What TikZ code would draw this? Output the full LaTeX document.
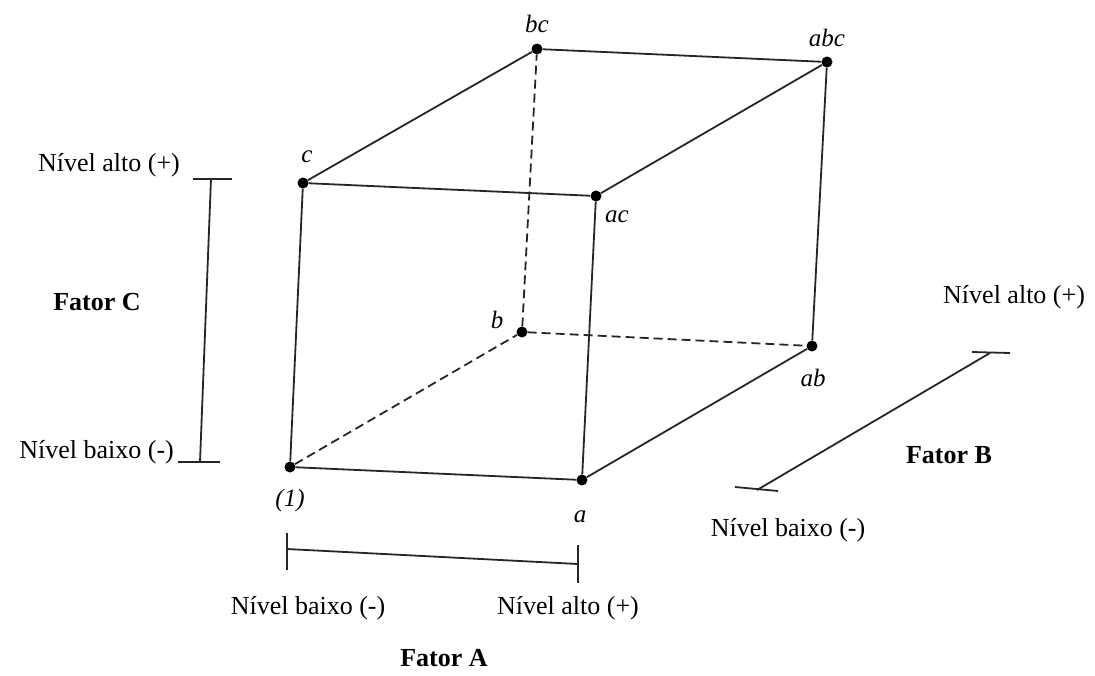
\documentclass[tikz,border=0pt]{standalone}
\usepackage{fontspec}
\setmainfont{Liberation Serif}
\begin{document}
\begin{tikzpicture}[x=1pt,y=-1pt,
  edge/.style={line width=1.8pt, black!85},
  hidden/.style={edge, dash pattern=on 9pt off 5pt},
  vtx/.style={circle, fill=black, inner sep=0pt, minimum size=11pt},
  lab/.style={font=\fontsize{25}{28}\selectfont\itshape, inner sep=0pt},
  txt/.style={font=\fontsize{26}{30}\selectfont, inner sep=0pt},
  boldtxt/.style={font=\fontsize{26}{30}\selectfont\bfseries, inner sep=0pt},
  bar/.style={line width=1.8pt, black!85}]
\useasboundingbox (0,0) rectangle (1095,675);
% cube vertices
\node[vtx] (v1)  at (290,467) {};
\node[vtx] (va)  at (582,480) {};
\node[vtx] (vb)  at (522,332) {};
\node[vtx] (vab) at (812,346) {};
\node[vtx] (vc)  at (303,183) {};
\node[vtx] (vac) at (596,196) {};
\node[vtx] (vbc) at (537,49) {};
\node[vtx] (vabc) at (827,62) {};
% solid edges
\draw[edge] (v1) -- (va);
\draw[edge] (va) -- (vab);
\draw[edge] (vab) -- (vabc);
\draw[edge] (vabc) -- (vbc);
\draw[edge] (vbc) -- (vc);
\draw[edge] (vc) -- (vac);
\draw[edge] (vac) -- (vabc);
\draw[edge] (vc) -- (v1);
\draw[edge] (vac) -- (va);
% hidden edges
\draw[hidden] (v1) -- (vb);
\draw[hidden] (vb) -- (vab);
\draw[hidden] (vb) -- (vbc);
% vertex labels
\node[lab] (l1)   at (290,500) {(1)};
\node[lab] (la)   at (580,517) {a};
\node[lab] (lb)   at (497,320) {b};
\node[lab] (lab)  at (813,378) {ab};
\node[lab] (lc)   at (307,157) {c};
\node[lab] (lac)  at (617,217) {ac};
\node[lab] (lbc)  at (537,24) {bc};
\node[lab] (labc) at (827,38) {abc};
% Fator C scale
\coordinate (ct) at (211,179);
\coordinate (cb) at (200,462);
\coordinate (ctl) at (193,179);
\coordinate (ctr) at (232,179);
\coordinate (cbl) at (178,462);
\coordinate (cbr) at (220,462);
\draw[bar] (ct) -- (cb);
\draw[bar] (ctl) -- (ctr);
\draw[bar] (cbl) -- (cbr);
% Fator A scale
\coordinate (as) at (287,549);
\coordinate (ae) at (578,564);
\coordinate (al1) at (287,533);
\coordinate (al2) at (287,570);
\coordinate (ar1) at (578,545);
\coordinate (ar2) at (578,583);
\draw[bar] (as) -- (ae);
\draw[bar] (al1) -- (al2);
\draw[bar] (ar1) -- (ar2);
% Fator B scale
\coordinate (bt) at (990,353);
\coordinate (bb) at (757,490);
\coordinate (btl) at (972,352);
\coordinate (btr) at (1010,353);
\coordinate (bbl) at (735,487);
\coordinate (bbr) at (778,491);
\draw[bar] (bt) -- (bb);
\draw[bar] (btl) -- (btr);
\draw[bar] (bbl) -- (bbr);
% texts
\node[txt, anchor=east] (cnhi) at (180,165) {Nível alto (+)};
\node[txt, anchor=east] (cnlo) at (174,452) {Nível baixo (-)};
\node[boldtxt] (fc) at (97,302) {Fator C};
\node[txt] (anlo) at (308,608) {Nível baixo (-)};
\node[txt] (anhi) at (568,608) {Nível alto (+)};
\node[boldtxt] (fa) at (444,658) {Fator A};
\node[txt, anchor=west] (bnhi) at (943,297) {Nível alto (+)};
\node[boldtxt] (fb) at (949,455) {Fator B};
\node[txt] (bnlo) at (788,530) {Nível baixo (-)};
\end{tikzpicture}
\end{document}
